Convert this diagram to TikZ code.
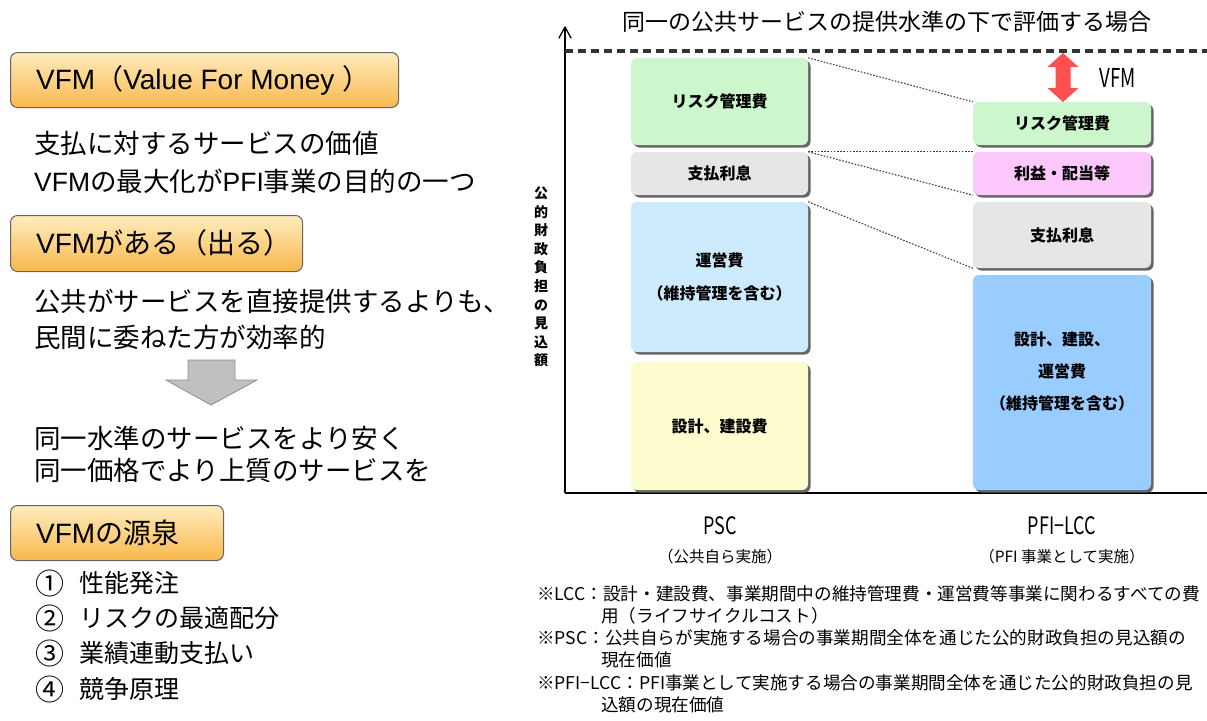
\documentclass[tikz,border=0pt]{standalone}
\usepackage{fontspec}
\setmainfont{Noto Sans CJK JP}
\newfontfamily\lat{Liberation Sans}
\usetikzlibrary{shadows}
\definecolor{boxtop}{RGB}{254,236,190}
\definecolor{boxbot}{RGB}{249,184,76}
\definecolor{boxline}{RGB}{100,100,100}
\definecolor{cgreen}{RGB}{204,247,204}
\definecolor{cgray}{RGB}{230,230,230}
\definecolor{clblue}{RGB}{204,234,252}
\definecolor{cyellow}{RGB}{252,252,206}
\definecolor{cpink}{RGB}{252,200,252}
\definecolor{cblue}{RGB}{153,204,255}
\definecolor{cred}{RGB}{255,80,80}
\definecolor{agray}{RGB}{192,192,192}
\definecolor{agrayline}{RGB}{140,140,140}
\begin{document}
\begin{tikzpicture}[x=1pt,y=-1pt,
  hbox/.style={draw=boxline, line width=1pt, rounded corners=7pt, top color=boxtop, bottom color=boxbot, anchor=north west, inner sep=0pt},
  htext/.style={anchor=west, inner sep=0pt, font=\fontsize{28}{30}\selectfont},
  body/.style={anchor=west, inner sep=0pt, font=\fontsize{26.5}{30}\selectfont},
  item/.style={anchor=west, inner sep=0pt, font=\fontsize{25}{28}\selectfont},
  num/.style={anchor=west, inner sep=0pt, font=\fontsize{29}{30}\selectfont},
  bar/.style={rounded corners=6pt, drop shadow={shadow xshift=2.5pt, shadow yshift=-2.5pt, fill=black!60, opacity=1}, inner sep=0pt, align=center, font=\fontsize{16}{33}\selectfont\bfseries},
  link/.style={line width=1.1pt, black!75, dash pattern=on 1.6pt off 1.6pt},
  note/.style={anchor=west, inner sep=0pt, font=\fontsize{17.6}{20}\selectfont},
  axis/.style={line width=2.5pt, black}
]
\useasboundingbox (0,0) rectangle (1207,720);
\fill[white] (0,0) rectangle (1207,720);

% ---------- left side ----------
\node[hbox, minimum width=388pt, minimum height=55pt] (h1) at (10,52) {};
\node[htext] (h1t) at (36,80) {{\lat VFM}（{\lat Value For Money }）};
\node[body] (l1) at (34,143) {支払に対するサービスの価値};
\node[body] (l2) at (34,181) {{\lat VFM}の最大化が{\lat PFI}事業の目的の一つ};

\node[hbox, minimum width=292pt, minimum height=56pt] (h2) at (10,215) {};
\node[htext] (h2t) at (36,243) {{\lat VFM}がある（出る）};
\node[body] (l3) at (34,301) {公共がサービスを直接提供するよりも、};
\node[body] (l4) at (34,337) {民間に委ねた方が効率的};

\draw[fill=agray, draw=agrayline, line width=0.8pt]
  (188,360) -- (235,360) -- (235,380) -- (257,380) -- (211,405) -- (166,380) -- (188,380) -- cycle;

\node[body] (l5) at (34,438) {同一水準のサービスをより安く};
\node[body] (l6) at (34,470) {同一価格でより上質のサービスを};

\node[hbox, minimum width=213pt, minimum height=55pt] (h3) at (10,505) {};
\node[htext] (h3t) at (36,533) {{\lat VFM}の源泉};

\node[num] (n1) at (35,583) {①};
\node[item] (t1) at (79,583) {性能発注};
\node[num] (n2) at (35,618) {②};
\node[item] (t2) at (79,618) {リスクの最適配分};
\node[num] (n3) at (35,653) {③};
\node[item] (t3) at (79,653) {業績連動支払い};
\node[num] (n4) at (35,689) {④};
\node[item] (t4) at (79,689) {競争原理};

% ---------- right side: chart ----------
\node[inner sep=0pt, font=\fontsize{23}{25}\selectfont] (title) at (887,22) {同一の公共サービスの提供水準の下で評価する場合};

\coordinate (ytop) at (565,27);
\coordinate (orig) at (565,493);
\coordinate (xend) at (1207,493);
\draw[axis] (orig) -- (ytop);
\draw[line width=1.3pt, line cap=round, line join=round] (559,38) -- (ytop) -- (571,38);
\draw[axis] (orig) -- (xend);

\coordinate (dl) at (565,51);
\coordinate (dr) at (1207,51);
\draw[line width=3.4pt, black!80, dash pattern=on 8pt off 5pt] (dl) -- (dr);

\node[align=center, inner sep=0pt, font=\fontsize{14}{18.6}\selectfont\bfseries] (ylab) at (541,277)
  {公\\的\\財\\政\\負\\担\\の\\見\\込\\額};

% PSC bars
\node[bar, fill=cgreen,  minimum width=177pt, minimum height=87pt]  (psr) at (719.5,101.5) {リスク管理費};
\node[bar, fill=cgray,   minimum width=177pt, minimum height=43pt]  (psi) at (719.5,173.5) {支払利息};
\node[bar, fill=clblue,  minimum width=177pt, minimum height=150pt] (pso) at (719.5,277)   {運営費\\（維持管理を含む）};
\node[bar, fill=cyellow, minimum width=177pt, minimum height=128pt] (psd) at (719.5,426)   {設計、建設費};

% PFI-LCC bars
\node[bar, fill=cgreen, minimum width=178pt, minimum height=43pt]  (pfr) at (1062,123.5) {リスク管理費};
\node[bar, fill=cpink,  minimum width=178pt, minimum height=43pt]  (pfp) at (1062,173.5) {利益・配当等};
\node[bar, fill=cgray,  minimum width=178pt, minimum height=66pt]  (pfi) at (1062,235)   {支払利息};
\node[bar, fill=cblue,  minimum width=178pt, minimum height=215pt] (pfd) at (1062,382.5) {};
\node[align=center, inner sep=0pt, font=\fontsize{16}{32}\selectfont\bfseries] (pfdt) at (1062,372) {設計、建設、\\運営費\\（維持管理を含む）};

% dotted links
\draw[link] (psr.north east) -- (pfr.north west);
\draw[link] (psi.north east) -- (pfp.north west);
\draw[link] (psi.north east) -- (pfp.south west);
\draw[link] (pso.north east) -- (pfi.south west);

% VFM arrow
\fill[cred] (1063,53) -- (1078.5,67) -- (1070.5,67) -- (1070.5,88) -- (1078.5,88) -- (1063,102)
  -- (1047.5,88) -- (1055.5,88) -- (1055.5,67) -- (1047.5,67) -- cycle;
\node[inner sep=0pt, font=\fontsize{26}{28}\selectfont] (vfm) at (1118,78) {\scalebox{0.72}[1]{VFM}};

% axis labels
\node[inner sep=0pt, font=\fontsize{24}{26}\selectfont] (psc) at (720,526) {\scalebox{0.75}[1]{PSC}};
\node[inner sep=0pt, font=\fontsize{15.5}{17}\selectfont] (pscs) at (720,557) {（公共自ら実施）};
\node[inner sep=0pt, font=\fontsize{24}{26}\selectfont] (lcc) at (1062,526) {\scalebox{0.75}[1]{PFI−LCC}};
\node[inner sep=0pt, font=\fontsize{15.5}{17}\selectfont] (lccs) at (1062,557) {（PFI 事業として実施）};

% notes
\node[note] (r1) at (537,594) {※LCC：設計・建設費、事業期間中の維持管理費・運営費等事業に関わるすべての費};
\node[note] (r2) at (601,616) {用（ライフサイクルコスト）};
\node[note] (r3) at (537,638) {※PSC：公共自らが実施する場合の事業期間全体を通じた公的財政負担の見込額の};
\node[note] (r4) at (601,660) {現在価値};
\node[note] (r5) at (537,683) {※PFI−LCC：PFI事業として実施する場合の事業期間全体を通じた公的財政負担の見};
\node[note] (r6) at (601,705) {込額の現在価値};
\end{tikzpicture}
\end{document}
